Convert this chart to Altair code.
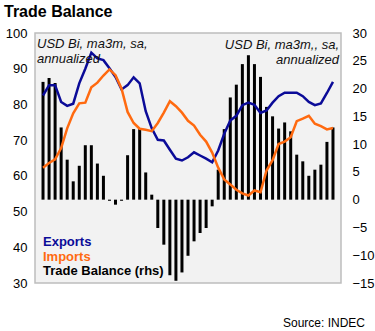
import altair as alt
import pandas as pd

months = ["Aug-21","Sep-21","Oct-21","Nov-21","Dec-21","Jan-22","Feb-22","Mar-22","Apr-22","May-22","Jun-22","Jul-22",
          "Aug-22","Sep-22","Oct-22","Nov-22","Dec-22","Jan-23","Feb-23","Mar-23","Apr-23","May-23","Jun-23","Jul-23",
          "Aug-23","Sep-23","Oct-23","Nov-23","Dec-23","Jan-24","Feb-24","Mar-24","Apr-24","May-24","Jun-24","Jul-24",
          "Aug-24","Sep-24","Oct-24","Nov-24","Dec-24","Jan-25","Feb-25","Mar-25","Apr-25","May-25","Jun-25","Jul-25",
          "Aug-25"]

exports = [82.5, 85.4, 85.4, 80.7, 79.6, 80.2, 85.9, 90.0, 94.5, 92.9,
           92.4, 90.1, 87.7, 84.2, 85.4, 87.6, 85.9, 78.1, 73.3, 70.1,
           69.9, 67.3, 64.8, 64.3, 65.2, 66.6, 65.7, 64.8, 63.8, 67.1,
           71.8, 75.5, 76.8, 79.8, 80.5, 79.9, 77.6, 78.3, 80.5, 82.3,
           83.3, 83.3, 83.3, 82.3, 80.7, 79.8, 80.3, 83.2, 86.3]

imports = [62.3, 63.6, 64.6, 67.8, 73.3, 77.5, 80.3, 80.5, 84.8, 86.1,
           88.1, 89.8, 88.2, 84.4, 77.9, 74.8, 73.2, 72.9, 72.5, 74.8,
           77.7, 80.9, 79.5, 77.7, 75.4, 74.1, 71.5, 69.6, 66.5, 62.3,
           59.0, 57.6, 56.1, 55.1, 54.5, 55.9, 55.4, 61.5, 64.4, 68.9,
           69.6, 70.8, 75.3, 76.0, 76.8, 74.6, 73.9, 73.0, 73.4]

balance = [21.2, 21.9, 21.0, 13.0, 7.2, 3.3, 6.1, 9.8, 9.8, 6.5,
           4.3, -0.2, -0.9, -0.2, 8.0, 12.7, 12.7, 4.9, 0.9, -5.1,
           -8.1, -13.6, -14.6, -13.1, -10.1, -7.5, -6.0, -5.1, -1.2, 5.4,
           12.7, 18.4, 20.7, 24.4, 26.0, 24.4, 22.1, 16.7, 15.0, 12.8,
           13.9, 12.3, 8.1, 6.9, 4.3, 5.4, 6.3, 10.4, 13.0]

tick_idx = [0, 12, 24, 36, 48]

BLUE = "#0B0B98"
ORANGE = "#FF6A10"
FONT = "Liberation Sans"

idx = list(range(len(months)))
df = pd.DataFrame({"i": idx, "month": months, "Exports": exports,
                   "Imports": imports, "Balance": balance})

label_map = "{" + ",".join(f"'{i}':'{months[i]}'" for i in tick_idx) + "}"

xenc = alt.X("i:Q", scale=alt.Scale(domain=[-0.5, 48.5], nice=False, zero=False),
             axis=alt.Axis(values=tick_idx, labelExpr=f"{label_map}[''+datum.value]",
                           ticks=False, domain=False, grid=False, title=None,
                           labelFontSize=13, labelFont=FONT, labelColor="#000",
                           labelPadding=7, labelFlush=False))

bars = alt.Chart(df).mark_bar(size=3, color="#000000").encode(
    x=xenc,
    y=alt.Y("Balance:Q", scale=alt.Scale(domain=[-15, 30], nice=False),
            axis=alt.Axis(orient="right", values=list(range(-15, 31, 5)), ticks=False,
                          domain=False, grid=False, title=None, labelFontSize=13,
                          labelFont=FONT, labelColor="#000", labelPadding=11))
)

lines_df = df.melt(id_vars=["i"], value_vars=["Exports", "Imports"],
                   var_name="series", value_name="val")
lines = alt.Chart(lines_df).mark_line(strokeWidth=2.5).encode(
    x=alt.X("i:Q", scale=alt.Scale(domain=[-0.5, 48.5], nice=False, zero=False), axis=None),
    y=alt.Y("val:Q", scale=alt.Scale(domain=[30, 100], nice=False, zero=False),
            axis=alt.Axis(orient="left", values=list(range(30, 101, 10)), ticks=False,
                          domain=False, grid=False, title=None, labelFontSize=13,
                          labelFont=FONT, labelColor="#000", labelPadding=8)),
    color=alt.Color("series:N", scale=alt.Scale(domain=["Exports", "Imports"],
                                                range=[BLUE, ORANGE]), legend=None),
    detail="series:N"
)

def txt(s, x, y, size=13, weight="normal", style="normal", color="#000", align="left",
        baseline="alphabetic"):
    return alt.Chart(pd.DataFrame({"t": [s]})).mark_text(
        font=FONT, fontSize=size, fontWeight=weight, fontStyle=style, color=color,
        align=align, baseline=baseline
    ).encode(x=alt.value(x), y=alt.value(y), text="t:N")

texts = [
    txt("Trade Balance", -31, -16, size=16, weight="bold"),
    txt("USD Bi, ma3m, sa,", 2, 14.5, style="italic", color="#111"),
    txt("annualized", 2, 29.5, style="italic", color="#111"),
    txt("USD Bi, ma3m,, sa,", 304, 16, style="italic", color="#111", align="right"),
    txt("annualized", 304, 31, style="italic", color="#111", align="right"),
    txt("Exports", 8, 213, weight="bold", color=BLUE),
    txt("Imports", 8, 228, weight="bold", color=ORANGE),
    txt("Trade Balance (rhs)", 8, 242, weight="bold", color="#000"),
    txt("Source: INDEC", 330, 294, size=12, align="right"),
]

chart = alt.layer(bars, lines, *texts).resolve_scale(y="independent").properties(
    width=306, height=250,
    autosize=alt.AutoSizeParams(type="none"),
    padding={"left": 35, "top": 33, "right": 34, "bottom": 48},
    background="#FFFFFF"
).configure_view(fill="#F2F2F2", stroke="#BDBDBD", strokeWidth=1.5)

chart.save("out.html", embed_options={"renderer": "svg", "actions": False})
